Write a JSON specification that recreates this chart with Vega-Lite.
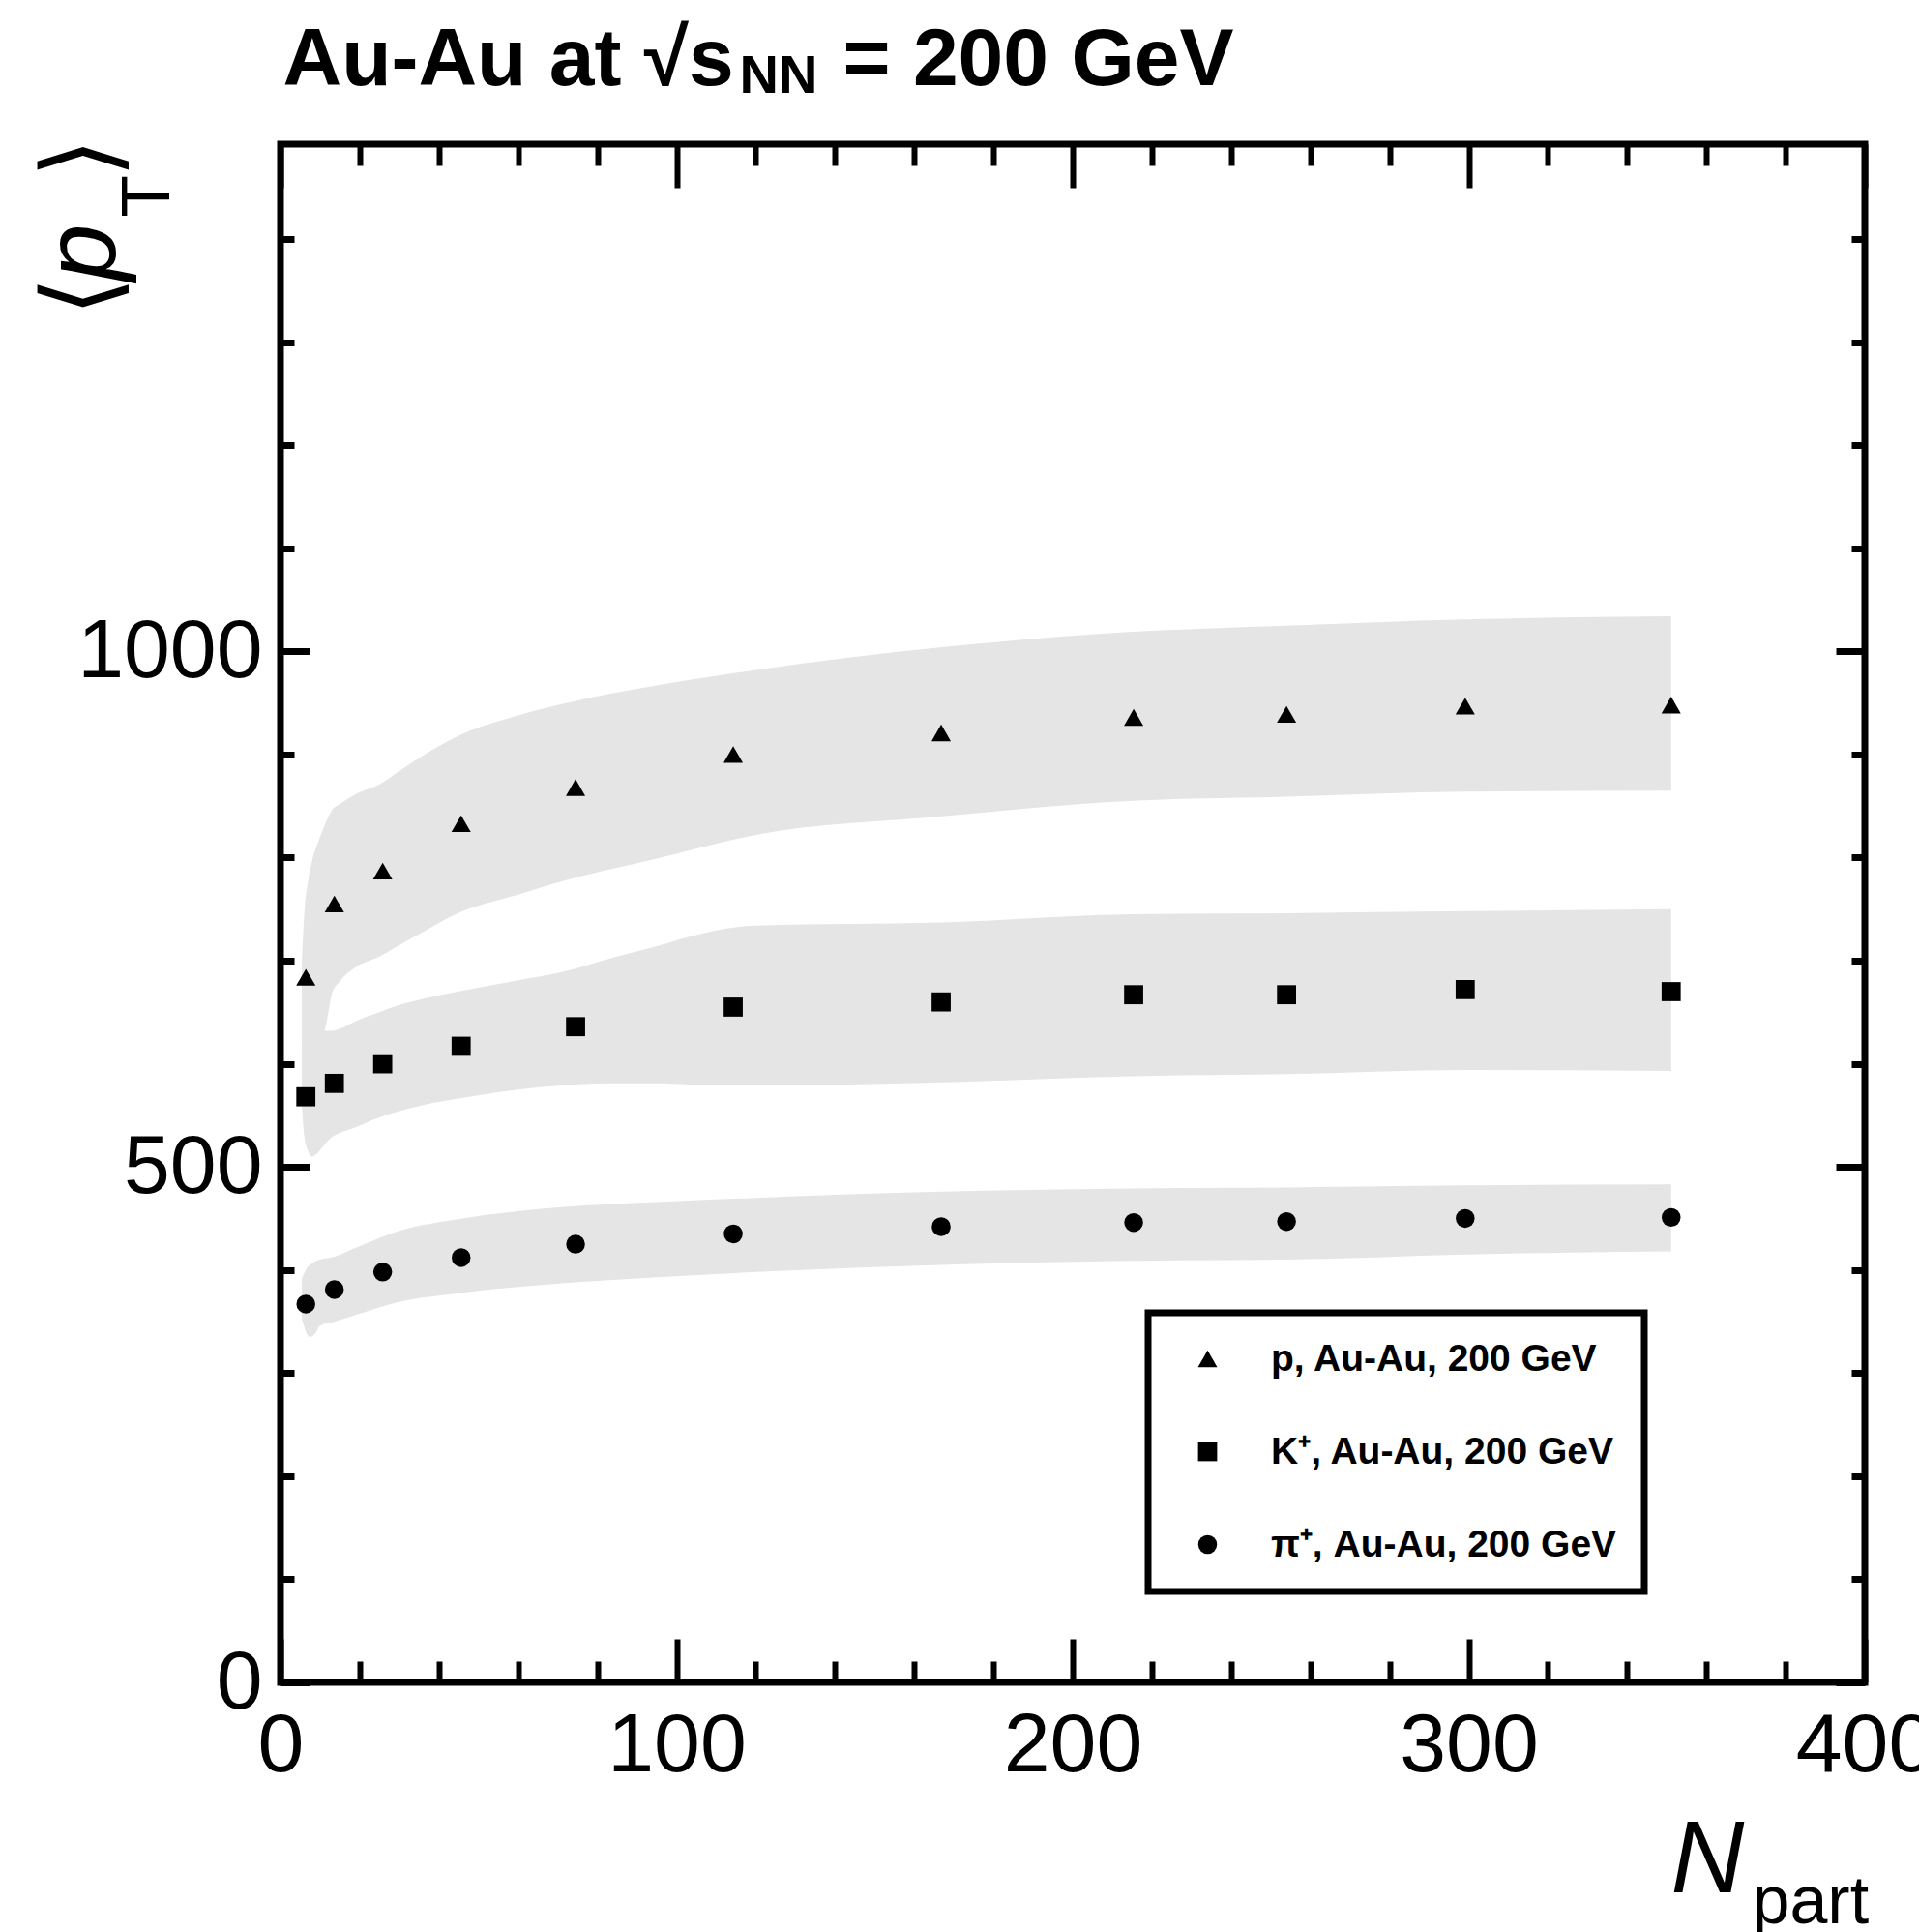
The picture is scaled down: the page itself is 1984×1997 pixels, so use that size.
{
  "$schema": "https://vega.github.io/schema/vega-lite/v6.json",
  "width": 1638,
  "height": 1590,
  "autosize": {"type": "none"},
  "padding": {"left": 290, "top": 149, "right": 56, "bottom": 258},
  "background": "white",
  "config": {
    "view": {"stroke": "black", "strokeWidth": 7},
    "font": "Liberation Sans",
    "axis": {"domain": false, "grid": false, "tickColor": "black", "labelColor": "black", "titleColor": "black", "labelFont": "Liberation Sans", "titleFont": "Liberation Sans", "labelOverlap": false, "labelFlush": false, "labelLimit": 0, "titlePadding": 0},
    "legend": {"strokeWidth": 7, "strokeColor": "black"}
  },
  "datasets": {
    "bands": [
      {"band": "p", "npart": 5.4, "lo": 615, "hi": 700},
      {"band": "p", "npart": 6.0, "lo": 614, "hi": 745},
      {"band": "p", "npart": 7.0, "lo": 614, "hi": 778},
      {"band": "p", "npart": 8.0, "lo": 615, "hi": 797},
      {"band": "p", "npart": 9.5, "lo": 618, "hi": 815},
      {"band": "p", "npart": 11.0, "lo": 630, "hi": 830},
      {"band": "p", "npart": 12.0, "lo": 648, "hi": 839},
      {"band": "p", "npart": 13.0, "lo": 668, "hi": 846},
      {"band": "p", "npart": 15.0, "lo": 680, "hi": 852},
      {"band": "p", "npart": 18.7, "lo": 693, "hi": 861},
      {"band": "p", "npart": 25.0, "lo": 704, "hi": 871},
      {"band": "p", "npart": 30.0, "lo": 715, "hi": 884},
      {"band": "p", "npart": 36.0, "lo": 728, "hi": 899},
      {"band": "p", "npart": 46.0, "lo": 748, "hi": 920},
      {"band": "p", "npart": 60.0, "lo": 764, "hi": 938},
      {"band": "p", "npart": 71.0, "lo": 777, "hi": 949},
      {"band": "p", "npart": 95.0, "lo": 799, "hi": 967},
      {"band": "p", "npart": 120.0, "lo": 822, "hi": 982},
      {"band": "p", "npart": 167.0, "lo": 840, "hi": 1004},
      {"band": "p", "npart": 215.0, "lo": 855, "hi": 1019},
      {"band": "p", "npart": 254.0, "lo": 859, "hi": 1025},
      {"band": "p", "npart": 299.0, "lo": 864, "hi": 1031},
      {"band": "p", "npart": 351.1, "lo": 865, "hi": 1034},
      {"band": "K", "npart": 5.4, "lo": 560, "hi": 625},
      {"band": "K", "npart": 6.0, "lo": 530, "hi": 628},
      {"band": "K", "npart": 7.0, "lo": 515, "hi": 630},
      {"band": "K", "npart": 8.0, "lo": 510, "hi": 631},
      {"band": "K", "npart": 9.5, "lo": 514, "hi": 632},
      {"band": "K", "npart": 11.0, "lo": 521, "hi": 632},
      {"band": "K", "npart": 13.0, "lo": 529, "hi": 632},
      {"band": "K", "npart": 15.0, "lo": 533, "hi": 634},
      {"band": "K", "npart": 18.7, "lo": 538, "hi": 641},
      {"band": "K", "npart": 25.0, "lo": 548, "hi": 650},
      {"band": "K", "npart": 30.0, "lo": 554, "hi": 657},
      {"band": "K", "npart": 36.0, "lo": 560, "hi": 663},
      {"band": "K", "npart": 46.0, "lo": 567, "hi": 671},
      {"band": "K", "npart": 60.0, "lo": 575, "hi": 681},
      {"band": "K", "npart": 71.0, "lo": 579, "hi": 689},
      {"band": "K", "npart": 83.0, "lo": 581, "hi": 702},
      {"band": "K", "npart": 95.0, "lo": 581, "hi": 714},
      {"band": "K", "npart": 103.0, "lo": 580, "hi": 723},
      {"band": "K", "npart": 120.0, "lo": 579, "hi": 734},
      {"band": "K", "npart": 167.0, "lo": 582, "hi": 737},
      {"band": "K", "npart": 215.0, "lo": 588, "hi": 745},
      {"band": "K", "npart": 254.0, "lo": 590, "hi": 746},
      {"band": "K", "npart": 299.0, "lo": 594, "hi": 748},
      {"band": "K", "npart": 351.1, "lo": 593, "hi": 750},
      {"band": "pi", "npart": 5.4, "lo": 352, "hi": 392},
      {"band": "pi", "npart": 6.0, "lo": 345, "hi": 397},
      {"band": "pi", "npart": 6.5, "lo": 339, "hi": 401},
      {"band": "pi", "npart": 7.5, "lo": 335, "hi": 405},
      {"band": "pi", "npart": 9.0, "lo": 340, "hi": 409},
      {"band": "pi", "npart": 10.0, "lo": 346, "hi": 410},
      {"band": "pi", "npart": 13.8, "lo": 350, "hi": 413},
      {"band": "pi", "npart": 18.7, "lo": 356, "hi": 421},
      {"band": "pi", "npart": 30.0, "lo": 369, "hi": 438},
      {"band": "pi", "npart": 46.0, "lo": 378, "hi": 450},
      {"band": "pi", "npart": 71.0, "lo": 387, "hi": 461},
      {"band": "pi", "npart": 95.0, "lo": 393, "hi": 466},
      {"band": "pi", "npart": 120.0, "lo": 398, "hi": 470},
      {"band": "pi", "npart": 167.0, "lo": 405, "hi": 476},
      {"band": "pi", "npart": 215.0, "lo": 409, "hi": 479},
      {"band": "pi", "npart": 254.0, "lo": 410, "hi": 480},
      {"band": "pi", "npart": 299.0, "lo": 415, "hi": 482},
      {"band": "pi", "npart": 351.1, "lo": 418, "hi": 483}
    ],
    "points": [
      {"series": "p, Au-Au, 200 GeV", "npart": 6.4, "pt": 684},
      {"series": "p, Au-Au, 200 GeV", "npart": 13.6, "pt": 755},
      {"series": "p, Au-Au, 200 GeV", "npart": 25.8, "pt": 787},
      {"series": "p, Au-Au, 200 GeV", "npart": 45.6, "pt": 833},
      {"series": "p, Au-Au, 200 GeV", "npart": 74.5, "pt": 868},
      {"series": "p, Au-Au, 200 GeV", "npart": 114.3, "pt": 900},
      {"series": "p, Au-Au, 200 GeV", "npart": 166.8, "pt": 921},
      {"series": "p, Au-Au, 200 GeV", "npart": 215.4, "pt": 936},
      {"series": "p, Au-Au, 200 GeV", "npart": 254.0, "pt": 939},
      {"series": "p, Au-Au, 200 GeV", "npart": 299.1, "pt": 947},
      {"series": "p, Au-Au, 200 GeV", "npart": 351.1, "pt": 948},
      {"series": "K⁺, Au-Au, 200 GeV", "npart": 6.4, "pt": 568},
      {"series": "K⁺, Au-Au, 200 GeV", "npart": 13.6, "pt": 581},
      {"series": "K⁺, Au-Au, 200 GeV", "npart": 25.8, "pt": 600},
      {"series": "K⁺, Au-Au, 200 GeV", "npart": 45.6, "pt": 617},
      {"series": "K⁺, Au-Au, 200 GeV", "npart": 74.5, "pt": 636},
      {"series": "K⁺, Au-Au, 200 GeV", "npart": 114.3, "pt": 655},
      {"series": "K⁺, Au-Au, 200 GeV", "npart": 166.8, "pt": 660},
      {"series": "K⁺, Au-Au, 200 GeV", "npart": 215.4, "pt": 667},
      {"series": "K⁺, Au-Au, 200 GeV", "npart": 254.0, "pt": 667},
      {"series": "K⁺, Au-Au, 200 GeV", "npart": 299.1, "pt": 672},
      {"series": "K⁺, Au-Au, 200 GeV", "npart": 351.1, "pt": 670},
      {"series": "π⁺, Au-Au, 200 GeV", "npart": 6.4, "pt": 367},
      {"series": "π⁺, Au-Au, 200 GeV", "npart": 13.6, "pt": 381},
      {"series": "π⁺, Au-Au, 200 GeV", "npart": 25.8, "pt": 398},
      {"series": "π⁺, Au-Au, 200 GeV", "npart": 45.6, "pt": 412},
      {"series": "π⁺, Au-Au, 200 GeV", "npart": 74.5, "pt": 425},
      {"series": "π⁺, Au-Au, 200 GeV", "npart": 114.3, "pt": 435},
      {"series": "π⁺, Au-Au, 200 GeV", "npart": 166.8, "pt": 442},
      {"series": "π⁺, Au-Au, 200 GeV", "npart": 215.4, "pt": 446},
      {"series": "π⁺, Au-Au, 200 GeV", "npart": 254.0, "pt": 447},
      {"series": "π⁺, Au-Au, 200 GeV", "npart": 299.1, "pt": 450},
      {"series": "π⁺, Au-Au, 200 GeV", "npart": 351.1, "pt": 451}
    ]
  },
  "resolve": {"scale": {"x": "independent", "y": "independent"}},
  "layer": [
    {
      "data": {"name": "bands"},
      "mark": {"type": "area", "interpolate": "monotone", "color": "#e5e5e5", "opacity": 1},
      "encoding": {
        "x": {"field": "npart", "type": "quantitative", "scale": {"domain": [0, 400], "nice": false, "zero": false},
          "axis": {"orient": "bottom", "values": [0, 100, 200, 300, 400], "format": "d", "tickSize": -45, "tickWidth": 6, "labelFontSize": 86, "labelPadding": 68,
            "title": "N", "titleFontSize": 105, "titleFontStyle": "italic", "titleFontWeight": "normal", "titleAngle": 0, "titleAlign": "left", "titleBaseline": "alphabetic", "titleX": 1437, "titleY": 216}},
        "y": {"field": "lo", "type": "quantitative", "scale": {"domain": [0, 1492], "nice": false, "zero": false},
          "axis": {"orient": "left", "values": [0, 500, 1000], "format": "d", "tickSize": -30, "tickWidth": 7, "labelFontSize": 86, "labelPadding": 49,
            "title": "⟨", "titleFontSize": 106, "titleFontWeight": "normal", "titleAngle": 270, "titleAlign": "left", "titleBaseline": "alphabetic", "titleX": -172, "titleY": 177}},
        "y2": {"field": "hi"},
        "detail": {"field": "band", "type": "nominal"}
      }
    },
    {
      "data": {"name": "points"},
      "mark": {"type": "point", "filled": true, "color": "black", "opacity": 1, "strokeWidth": 0},
      "encoding": {
        "x": {"field": "npart", "type": "quantitative", "scale": {"domain": [0, 400], "nice": false, "zero": false},
          "axis": {"orient": "bottom", "values": [20, 40, 60, 80, 120, 140, 160, 180, 220, 240, 260, 280, 320, 340, 360, 380], "tickSize": -22, "tickWidth": 6, "labels": false,
            "title": "part", "titleFontSize": 70, "titleFontWeight": "normal", "titleAngle": 0, "titleAlign": "left", "titleBaseline": "alphabetic", "titleX": 1521, "titleY": 248}},
        "y": {"field": "pt", "type": "quantitative", "scale": {"domain": [0, 1492], "nice": false, "zero": false},
          "axis": {"orient": "left", "values": [100, 200, 300, 400, 600, 700, 800, 900, 1100, 1200, 1300, 1400], "tickSize": -14, "tickWidth": 7, "labels": false,
            "title": "p", "titleFontSize": 106, "titleFontStyle": "italic", "titleFontWeight": "normal", "titleAngle": 270, "titleAlign": "left", "titleBaseline": "alphabetic", "titleX": -172, "titleY": 141}},
        "shape": {"field": "series", "type": "nominal",
          "scale": {"domain": ["p, Au-Au, 200 GeV", "K⁺, Au-Au, 200 GeV", "π⁺, Au-Au, 200 GeV"], "range": ["triangle-up", "square", "circle"]},
          "legend": {"orient": "none", "legendX": 897, "legendY": 1208, "title": null, "strokeColor": "black", "padding": 28, "labelFontSize": 39, "labelFontWeight": "bold", "labelFont": "Liberation Sans", "labelColor": "black", "symbolFillColor": "black", "symbolStrokeWidth": 0, "symbolOffset": 14, "labelOffset": 46, "rowPadding": 56, "labelLimit": 0}},
        "size": {"field": "series", "type": "nominal",
          "scale": {"domain": ["p, Au-Au, 200 GeV", "K⁺, Au-Au, 200 GeV", "π⁺, Au-Au, 200 GeV"], "range": [400, 380, 300]},
          "legend": {"orient": "none", "legendX": 897, "legendY": 1208, "title": null, "strokeColor": "black", "padding": 28, "labelFontSize": 39, "labelFontWeight": "bold", "labelFont": "Liberation Sans", "labelColor": "black", "symbolFillColor": "black", "symbolStrokeWidth": 0, "symbolOffset": 14, "labelOffset": 46, "rowPadding": 56, "labelLimit": 0}}
      }
    },
    {
      "data": {"name": "points"},
      "mark": {"type": "point", "opacity": 0},
      "encoding": {
        "x": {"field": "npart", "type": "quantitative", "scale": {"domain": [0, 400], "nice": false, "zero": false},
          "axis": {"orient": "top", "values": [0, 100, 200, 300, 400], "tickSize": -45, "tickWidth": 6, "labels": false,
            "title": "Au-Au at √s", "titleFontSize": 84, "titleFontWeight": "bold", "titleAngle": 0, "titleAlign": "left", "titleBaseline": "alphabetic", "titleX": 2, "titleY": -62}},
        "y": {"field": "pt", "type": "quantitative", "scale": {"domain": [0, 1492], "nice": false, "zero": false},
          "axis": {"orient": "right", "values": [0, 500, 1000], "tickSize": -30, "tickWidth": 7, "labels": false,
            "title": "T", "titleFontSize": 71, "titleFontWeight": "normal", "titleAngle": 270, "titleAlign": "left", "titleBaseline": "alphabetic", "titleX": -1754, "titleY": 75}}
      }
    },
    {
      "data": {"name": "points"},
      "mark": {"type": "point", "opacity": 0},
      "encoding": {
        "x": {"field": "npart", "type": "quantitative", "scale": {"domain": [0, 400], "nice": false, "zero": false},
          "axis": {"orient": "top", "values": [20, 40, 60, 80, 120, 140, 160, 180, 220, 240, 260, 280, 320, 340, 360, 380], "tickSize": -22, "tickWidth": 6, "labels": false,
            "title": "NN", "titleFontSize": 56, "titleFontWeight": "bold", "titleAngle": 0, "titleAlign": "left", "titleBaseline": "alphabetic", "titleX": 474, "titleY": -54}},
        "y": {"field": "pt", "type": "quantitative", "scale": {"domain": [0, 1492], "nice": false, "zero": false},
          "axis": {"orient": "right", "values": [100, 200, 300, 400, 600, 700, 800, 900, 1100, 1200, 1300, 1400], "tickSize": -14, "tickWidth": 7, "labels": false,
            "title": "⟩", "titleFontSize": 106, "titleFontWeight": "normal", "titleAngle": 270, "titleAlign": "left", "titleBaseline": "alphabetic", "titleX": -1810, "titleY": 34}}
      }
    },
    {
      "data": {"name": "points"},
      "mark": {"type": "point", "opacity": 0},
      "encoding": {
        "x": {"field": "npart", "type": "quantitative", "scale": {"domain": [0, 400], "nice": false, "zero": false},
          "axis": {"orient": "top", "values": [0], "ticks": false, "labels": false,
            "title": "= 200 GeV", "titleFontSize": 84, "titleFontWeight": "bold", "titleAngle": 0, "titleAlign": "left", "titleBaseline": "alphabetic", "titleX": 581, "titleY": -62}},
        "y": {"field": "pt", "type": "quantitative", "scale": {"domain": [0, 1492], "nice": false, "zero": false}, "axis": null}
      }
    }
  ]
}
